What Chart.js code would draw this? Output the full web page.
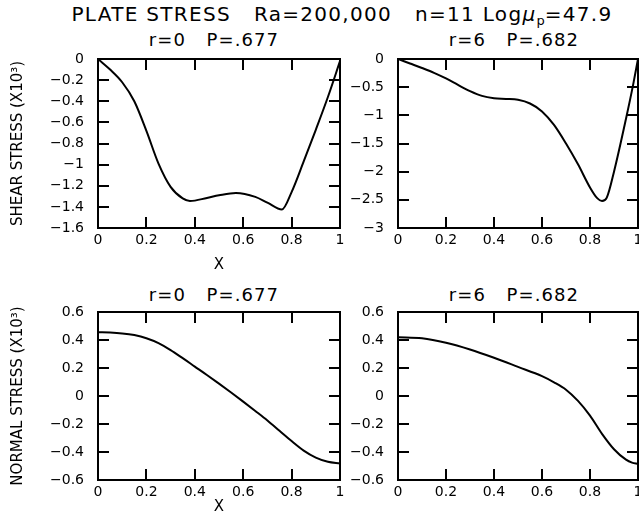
<!DOCTYPE html>
<html>
<head>
<meta charset="utf-8">
<script src="https://cdn.jsdelivr.net/npm/chart.js@4/dist/chart.umd.min.js"></script>
<style>
  html, body { margin: 0; padding: 0; background: #fff; overflow: hidden; }
  body { width: 639px; height: 522px; position: relative; font-family: "DejaVu Sans", sans-serif; color: #000; }
  canvas { position: absolute; }
  #title { position: absolute; left: 0; top: 2px; width: 684px; text-align: center;
           font-size: 20px; line-height: 24px; letter-spacing: 1.3px; white-space: pre; }
  #title sub { font-size: 13px; vertical-align: -4px; letter-spacing: 0; }
  .sub { position: absolute; width: 240px; text-align: center; font-size: 18px;
         line-height: 22px; letter-spacing: 1.1px; white-space: pre; }
</style>
</head>
<body>
<div id="title">PLATE STRESS   Ra=200,000   n=11 Log<i>μ</i><sub>p</sub>=47.9</div>
<div class="sub" id="t1" style="left:94px;top:29px"></div>
<div class="sub" id="t2" style="left:394px;top:29px"></div>
<div class="sub" id="t3" style="left:94px;top:284px"></div>
<div class="sub" id="t4" style="left:394px;top:284px"></div>
<canvas id="c1" width="345" height="260" style="left:0;top:28px"></canvas>
<canvas id="c2" width="300" height="260" style="left:345px;top:28px"></canvas>
<canvas id="c3" width="345" height="238" style="left:0;top:284px"></canvas>
<canvas id="c4" width="300" height="238" style="left:345px;top:284px"></canvas>
<script>
// shear stress along the plate, r=0
var xShear0 = [0, 0.05, 0.1, 0.15, 0.2, 0.25, 0.3, 0.35, 0.38, 0.45, 0.5, 0.57, 0.65, 0.7, 0.76, 0.8, 0.85, 0.9, 0.95, 1];
var shear0  = [0, -0.1, -0.22, -0.4, -0.68, -0.99, -1.21, -1.32, -1.345, -1.315, -1.29, -1.268, -1.305, -1.36, -1.425, -1.26, -0.97, -0.67, -0.36, -0.02];

// shear stress, r=6
var xShear6 = [0, 0.05, 0.1, 0.15, 0.2, 0.25, 0.3, 0.35, 0.4, 0.45, 0.5, 0.55, 0.6, 0.65, 0.7, 0.75, 0.8, 0.83, 0.85, 0.87, 0.9, 0.95, 0.98, 1];
var shear6  = [0, -0.08, -0.16, -0.245, -0.345, -0.46, -0.57, -0.655, -0.695, -0.708, -0.725, -0.79, -0.93, -1.17, -1.5, -1.87, -2.28, -2.47, -2.52, -2.46, -2.0, -1.06, -0.45, 0];

// normal stress, r=0
var xNormal0 = [0, 0.05, 0.1, 0.15, 0.2, 0.25, 0.3, 0.35, 0.4, 0.45, 0.5, 0.55, 0.6, 0.65, 0.7, 0.75, 0.8, 0.85, 0.9, 0.95, 1];
var normal0  = [0.455, 0.453, 0.447, 0.435, 0.413, 0.378, 0.328, 0.27, 0.21, 0.15, 0.088, 0.025, -0.04, -0.107, -0.175, -0.248, -0.322, -0.39, -0.44, -0.47, -0.482];

// normal stress, r=6
var xNormal6 = [0, 0.1, 0.2, 0.3, 0.4, 0.5, 0.6, 0.65, 0.7, 0.75, 0.8, 0.85, 0.9, 0.95, 0.975, 1];
var normal6  = [0.42, 0.412, 0.38, 0.332, 0.273, 0.208, 0.142, 0.098, 0.045, -0.035, -0.14, -0.27, -0.38, -0.455, -0.476, -0.484];

// tick values on the axes
var xTicks = [0, 0.2, 0.4, 0.6, 0.8, 1];
var shear0Ticks = [0, -0.2, -0.4, -0.6, -0.8, -1, -1.2, -1.4, -1.6];
var shear6Ticks = [0, -0.5, -1, -1.5, -2, -2.5, -3];
var normalTicks = [0.6, 0.4, 0.2, 0, -0.2, -0.4, -0.6];

var titles = ['r=0   P=.677', 'r=6   P=.682'];
var yTitles = ['SHEAR STRESS (X10³)', 'NORMAL STRESS (X10³)'];

document.getElementById('t1').textContent = titles[0];
document.getElementById('t2').textContent = titles[1];
document.getElementById('t3').textContent = titles[0];
document.getElementById('t4').textContent = titles[1];

var FONT = '"DejaVu Sans", sans-serif';
var TICK = 11;

function fmt(v) {
  var s = String(Math.round(v * 10) / 10);
  return s.replace('-', '\u2212');
}

function pts(xs, ys) {
  return xs.map(function (x, i) { return { x: x, y: ys[i] }; });
}

function setTicks(vals) {
  return function (s) {
    s.ticks = vals.map(function (v) { return { value: v }; });
  };
}

// inward tick marks on all four sides, drawn as small filled bars
function tickPlugin(yVals) {
  return {
    id: 'inTicks',
    afterDraw: function (chart) {
      var ctx = chart.ctx, a = chart.chartArea;
      var sx = chart.scales.x, sy = chart.scales.y;
      ctx.save();
      ctx.fillStyle = '#000';
      xTicks.forEach(function (v) {
        if (v <= sx.min || v >= sx.max) return;
        var px = Math.round(sx.getPixelForValue(v));
        ctx.fillRect(px - 1, a.bottom - TICK, 2, TICK);
        ctx.fillRect(px - 1, a.top, 2, TICK);
      });
      yVals.forEach(function (v) {
        if (v <= sy.min || v >= sy.max) return;
        var py = Math.round(sy.getPixelForValue(v));
        ctx.fillRect(a.left, py - 1, TICK, 2);
        ctx.fillRect(a.right - TICK, py - 1, TICK, 2);
      });
      ctx.restore();
    }
  };
}

var frame = { display: true, width: 2, color: '#000' };

function makeChart(id, data, opt) {
  var ctx = document.getElementById(id).getContext('2d');
  return new Chart(ctx, {
    type: 'line',
    data: {
      datasets: [{
        data: data,
        borderColor: '#000',
        borderWidth: 2,
        pointRadius: 0,
        fill: false,
        cubicInterpolationMode: 'monotone'
      }]
    },
    options: {
      responsive: false,
      animation: false,
      layout: { padding: { left: 0, top: opt.padTop, right: opt.padRight, bottom: 0 } },
      plugins: {
        legend: { display: false },
        tooltip: { enabled: false }
      },
      scales: {
        x: {
          type: 'linear', position: 'bottom',
          min: 0, max: 1,
          grid: { display: false, drawTicks: false },
          border: frame,
          afterBuildTicks: setTicks(xTicks),
          ticks: {
            padding: 4, color: '#000', maxRotation: 0, autoSkip: false,
            font: { family: FONT, size: 14 },
            callback: fmt
          },
          title: {
            display: opt.xTitle, text: 'X', color: '#000',
            font: { family: FONT, size: 15, lineHeight: 1.2 },
            padding: { top: 0, bottom: opt.xTitlePad }
          },
          afterFit: function (s) { s.height = opt.xHeight; s.paddingLeft = 0; s.paddingRight = 0; }
        },
        x2: {
          type: 'linear', position: 'top',
          min: 0, max: 1,
          grid: { display: false, drawTicks: false },
          border: frame,
          ticks: { display: false },
          afterFit: function (s) { s.height = 0; s.paddingLeft = 0; s.paddingRight = 0; }
        },
        y: {
          position: 'left',
          min: opt.yMin, max: opt.yMax,
          grid: { display: false, drawTicks: false },
          border: frame,
          afterBuildTicks: setTicks(opt.yTicks),
          ticks: {
            padding: 14, color: '#000', autoSkip: false,
            font: { family: FONT, size: 14 },
            callback: fmt
          },
          title: {
            display: !!opt.yTitle, text: opt.yTitle || '', color: '#000',
            font: { family: FONT, size: 15, lineHeight: 1.2 },
            padding: { top: 9, bottom: 0 }
          },
          afterFit: function (s) { s.width = opt.yWidth; s.paddingTop = 0; s.paddingBottom = 0; }
        },
        y2: {
          position: 'right',
          min: opt.yMin, max: opt.yMax,
          grid: { display: false, drawTicks: false },
          border: frame,
          ticks: { display: false },
          afterFit: function (s) { s.width = 0; s.paddingTop = 0; s.paddingBottom = 0; }
        }
      }
    },
    plugins: [tickPlugin(opt.yTicks)]
  });
}

makeChart('c1', pts(xShear0, shear0), {
  padTop: 31, padRight: 5,
  yMin: -1.6, yMax: 0, yTicks: shear0Ticks, yWidth: 98, yTitle: yTitles[0],
  xTitle: true, xHeight: 60, xTitlePad: 14
});
makeChart('c2', pts(xShear6, shear6), {
  padTop: 31, padRight: 7,
  yMin: -3, yMax: 0, yTicks: shear6Ticks, yWidth: 53,
  xTitle: false, xHeight: 60, xTitlePad: 14
});
makeChart('c3', pts(xNormal0, normal0), {
  padTop: 28, padRight: 5,
  yMin: -0.6, yMax: 0.6, yTicks: normalTicks, yWidth: 98, yTitle: yTitles[1],
  xTitle: true, xHeight: 42, xTitlePad: 6
});
makeChart('c4', pts(xNormal6, normal6), {
  padTop: 28, padRight: 7,
  yMin: -0.6, yMax: 0.6, yTicks: normalTicks, yWidth: 53,
  xTitle: false, xHeight: 42, xTitlePad: 6
});
</script>
</body>
</html>
